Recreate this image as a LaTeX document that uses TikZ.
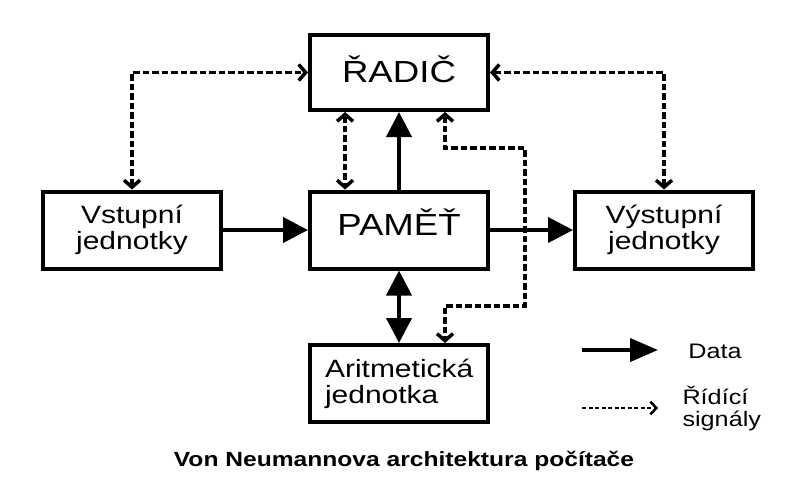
\documentclass[tikz,border=0pt]{standalone}
\usepackage{fontspec}
\setmainfont{Liberation Sans}[FakeStretch=1.2]
\usetikzlibrary{arrows.meta}

\begin{document}
\begin{tikzpicture}[x=1pt, y=-1pt,
  blok/.style={rectangle,draw,line width=4pt,minimum width=178pt,minimum height=77pt,align=center,inner sep=2pt},
  velky/.style={blok,font=\fontsize{30.5}{32}\selectfont,text height=22pt},
  maly/.style={blok,font=\fontsize{25}{26}\selectfont},
  dat/.style={line width=4pt,-{Triangle[length=25pt,width=25pt]}},
  dat2/.style={line width=4pt,{Triangle[length=25pt,width=25pt]}-{Triangle[length=25pt,width=25pt]}},
  ctl/.style={line width=3.5pt,dash pattern=on 6.5pt off 3pt,{Straight Barb[length=7pt,width=16pt]}-{Straight Barb[length=7pt,width=16pt]}},
  leg/.style={font=\fontsize{21}{22}\selectfont,align=left}
]
  \useasboundingbox (0,0) rectangle (797,479);

  \node[velky,minimum height=75pt,text depth=3pt](radic) at (399,72.5) {ŘADIČ};
  \node[velky,text depth=11pt](pamet) at (399,230) {PAMĚŤ};
  \node[maly](vstup)  at (132,230) {Vstupní\\jednotky};
  \node[maly](vystup) at (664,230) {Výstupní\\jednotky};
  \node[maly,align=left,text width=148pt](alu) at (399,383.5) {Aritmetická\\jednotka};

  % data
  \draw[dat](vstup.east) -- (pamet.west);
  \draw[dat](pamet.east) -- (vystup.west);
  \draw[dat](pamet.north) -- (radic.south);
  \draw[dat2](pamet.south) -- (alu.north);

  % ridici signaly
  \draw[ctl](vstup.north) |- (radic.west);
  \draw[ctl](vystup.north) |- (radic.east);
  \draw[ctl]([xshift=-54pt]radic.south) -- ([xshift=-54pt]pamet.north);
  \draw[ctl]([xshift=46pt]radic.south) |- (525,148) |- (445,306) -- ([xshift=46pt]alu.north);

  % legenda
  \coordinate (d1) at (582,350);
  \coordinate (d2) at (658,350);
  \coordinate (s1) at (582,408);
  \coordinate (s2) at (658,408);
  \draw[line width=4pt,-{Triangle[length=28pt,width=23pt]}](d1) -- (d2);
  \draw[line width=2.5pt,dash pattern=on 4pt off 2.5pt,-{Straight Barb[length=6pt,width=13pt]}](s1) -- (s2);
  \node[leg](ldata) at (715,351) {Data};
  \node[leg,anchor=west](lsig) at (679,408) {Řídící\\signály};

  \node[font=\bfseries\fontsize{20.5}{22}\selectfont](title) at (404,461) {Von Neumannova architektura počítače};
\end{tikzpicture}
\end{document}
